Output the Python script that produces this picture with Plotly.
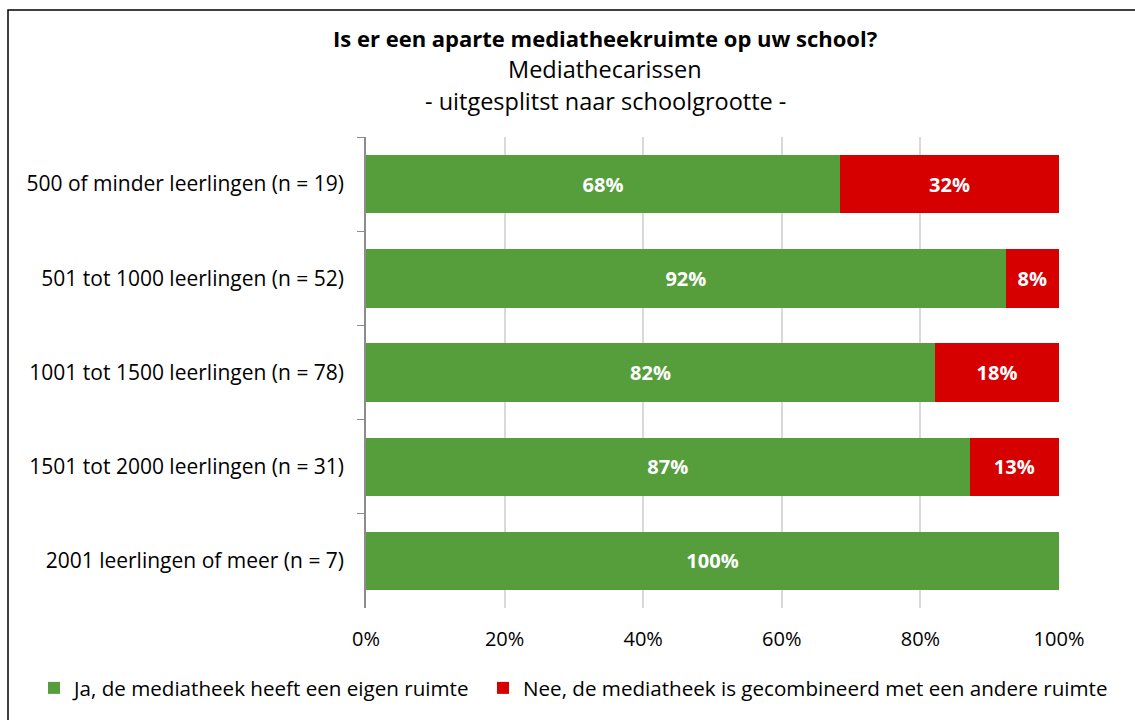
import plotly.graph_objects as go

categories = [
    "500 of minder leerlingen (n = 19)",
    "501 tot 1000 leerlingen (n = 52)",
    "1001 tot 1500 leerlingen (n = 78)",
    "1501 tot 2000 leerlingen (n = 31)",
    "2001 leerlingen of meer (n = 7)",
]
ja_values = [0.684, 0.923, 0.821, 0.871, 1.0]
nee_values = [0.316, 0.077, 0.179, 0.129, 0.0]
series_names = [
    "Ja, de mediatheek heeft een eigen ruimte",
    "Nee, de mediatheek is gecombineerd met een andere ruimte",
]
x_ticks = [0, 0.2, 0.4, 0.6, 0.8, 1.0]
x_tick_labels = ["0%", "20%", "40%", "60%", "80%", "100%"]

FONT = "Open Sans"
GREEN = "#559E3B"
RED = "#D60000"

W, H = 1135, 720
L, R, T, B = 366, 76, 137, 112
PW, PH = W - L - R, H - T - B


def labels(vals):
    return [f"{round(v * 100):.0f}%" if v > 0 else "" for v in vals]


def px_x(x):
    return (x - L) / PW


def px_y(y):
    return (H - B - y) / PH


fig = go.Figure()
for name, vals, col, lg in [(series_names[0], ja_values, GREEN, "legend"),
                            (series_names[1], nee_values, RED, "legend2")]:
    fig.add_trace(go.Bar(
        y=categories, x=vals, name=name, orientation="h", legend=lg,
        marker=dict(color=col, line=dict(width=0)),
        text=labels(vals), textposition="inside", insidetextanchor="middle",
        textfont=dict(family=FONT, size=20, color="white", weight="bold"),
        hoverinfo="skip",
    ))

legend_common = dict(orientation="h", xref="container", xanchor="left",
                     yref="container", y=(H - 688) / H, yanchor="middle",
                     font=dict(family=FONT, size=20.6), itemwidth=30,
                     bgcolor="rgba(0,0,0,0)")

fig.update_layout(
    barmode="stack",
    bargap=0.38,
    width=W, height=H,
    margin=dict(l=L, r=R, t=T, b=B),
    paper_bgcolor="white", plot_bgcolor="white",
    font=dict(family=FONT, size=20, color="#000000"),
    showlegend=True,
    legend=dict(x=34 / W, **legend_common),
    legend2=dict(x=483 / W, **legend_common),
    uniformtext=dict(mode="show", minsize=10),
)
fig.update_xaxes(
    range=[0, 1], tickvals=x_ticks, ticktext=x_tick_labels,
    showgrid=True, gridcolor="#D9D9D9", gridwidth=1.5,
    zeroline=False, showline=False, ticks="", ticklabelstandoff=17,
    tickfont=dict(family=FONT, size=20),
)
fig.update_yaxes(
    categoryorder="array", categoryarray=categories, autorange="reversed",
    showline=True, linecolor="#8C8C8C", linewidth=1.5,
    ticks="outside", tickson="boundaries", ticklen=7, tickcolor="#8C8C8C",
    ticklabelstandoff=16, showgrid=False,
    tickfont=dict(family=FONT, size=21),
)

# title lines
title_x = px_x(605)
fig.add_annotation(text="<b>Is er een aparte mediatheekruimte op uw school?</b>", xref="paper", yref="paper",
                   x=title_x, y=px_y(38), showarrow=False, yanchor="middle",
                   font=dict(family=FONT, size=22))
fig.add_annotation(text="Mediathecarissen", xref="paper", yref="paper",
                   x=title_x, y=px_y(69), showarrow=False, yanchor="middle",
                   font=dict(family=FONT, size=23.5))
fig.add_annotation(text="- uitgesplitst naar schoolgrootte -", xref="paper", yref="paper",
                   x=title_x, y=px_y(101), showarrow=False, yanchor="middle",
                   font=dict(family=FONT, size=23.5))

# chart border (left and top edges visible)
fig.add_shape(type="rect", xref="paper", yref="paper",
              x0=px_x(8), x1=px_x(1160), y0=px_y(760), y1=px_y(10),
              line=dict(color="#000000", width=1.5), layer="below")

fig.write_html("out.html", config={"displayModeBar": False},
               post_script="document.body.style.margin='0';")
